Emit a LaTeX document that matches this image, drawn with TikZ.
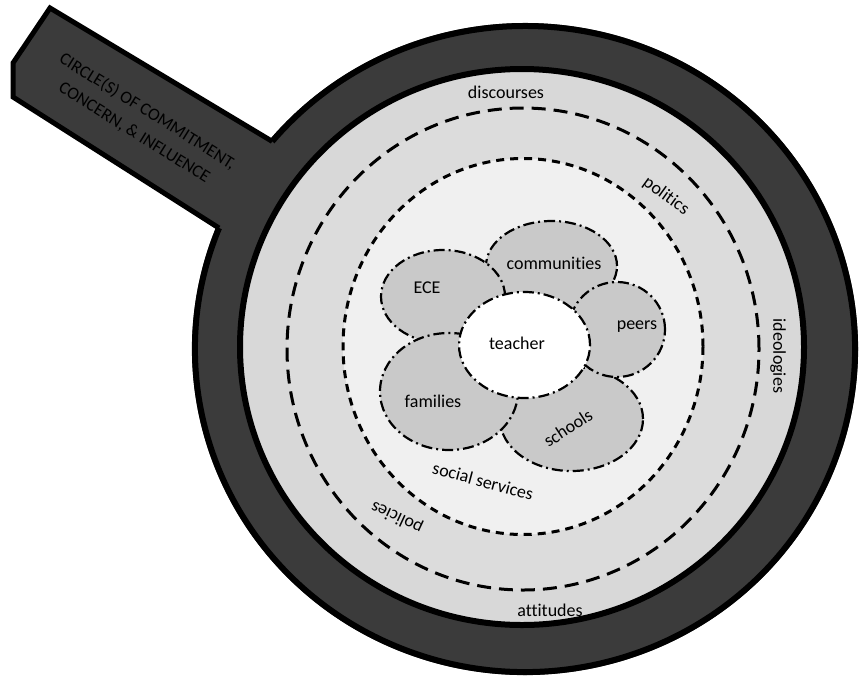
\documentclass[tikz,border=0pt]{standalone}
\usepackage{fontspec}
\setmainfont{Carlito}[Ligatures={NoCommon,NoContextual}]
\usetikzlibrary{calc}
\definecolor{ringdark}{HTML}{3B3B3B}
\definecolor{band}{HTML}{D8D8D8}
\definecolor{midband}{HTML}{DCDCDC}
\definecolor{innerbg}{HTML}{F0F0F0}
\definecolor{petalfill}{HTML}{C9C9C9}
\tikzset{
  lbl/.style={font=\fontsize{18}{21}\selectfont, text=black, inner sep=0pt},
  handletext/.style={font=\fontsize{17.5}{25}\selectfont, text=black, inner sep=0pt, align=center},
  petal/.style={fill=petalfill, draw=black, line width=2.2pt, dash pattern=on 11pt off 4pt on 2pt off 4pt},
  core/.style={fill=white, draw=black, line width=2.2pt, dash pattern=on 11pt off 4pt on 2pt off 4pt},
  outerdash/.style={draw=black, line width=3pt, dash pattern=on 14pt off 8pt},
  innerdash/.style={draw=black, line width=3pt, dash pattern=on 8pt off 6pt},
  rim/.style={draw=black, line width=6pt},
}
\begin{document}
\begin{tikzpicture}[x=1pt,y=-1pt]
\useasboundingbox (0,0) rectangle (859,675);
% centres
\coordinate (C) at (525,349);
\coordinate (CL) at (522,347);
\coordinate (CD) at (523,349);
\coordinate (CI) at (523,346.5);
% handle + dark ring
\fill[ringdark] (13,97) -- (13,63) -- (50,8) -- (332,175) -- (273,266) -- cycle;
\fill[ringdark] (C) ellipse [x radius=333pt, y radius=326pt];
\coordinate (hT) at ($(C)+(140:330pt and 323pt)$);
\coordinate (hB) at ($(C)+(158:330pt and 323pt)$);
\draw[rim] (hB) arc[start angle=158, end angle=500, x radius=330pt, y radius=323pt];
\draw[black, line width=5pt, line join=miter] (hB) -- (13,97) -- (13,63) -- (50,8) -- (hT);
% light band
\path[rim, fill=band] (CL) ellipse [x radius=282pt, y radius=278pt];
% outer dashed region
\fill[midband] (CD) ellipse [x radius=236pt, y radius=241pt];
\path[outerdash] (CD) ellipse [x radius=236pt, y radius=241pt];
% inner dashed region
\path[innerdash, fill=innerbg] (CI) ellipse [x radius=180pt, y radius=188pt];
% petals
\path[petal] (551.5,266) ellipse [x radius=65.5pt, y radius=45pt];
\path[petal] (443,296.5) ellipse [x radius=62pt, y radius=46.5pt];
\path[petal] (571.5,419) ellipse [x radius=71.5pt, y radius=52pt];
\path[petal] (617,329.5) ellipse [x radius=48pt, y radius=47.5pt];
\path[petal] (449,391.5) ellipse [x radius=69pt, y radius=58.5pt];
\path[core] (524.5,345) ellipse [x radius=65.5pt, y radius=53pt];
% labels
\node[handletext, rotate=-32] (title) at (141,122) {CIRCLE(S) OF COMMITMENT,\\CONCERN, \& INFLUENCE};
\node[lbl] (discourses) at (506,92) {discourses};
\node[lbl, rotate=-36] (politics) at (666,196) {politics};
\node[lbl, rotate=-90] (ideologies) at (778,356) {ideologies};
\node[lbl] (attitudes) at (550,610) {attitudes};
\node[lbl, rotate=155] (policies) at (397,517) {policies};
\node[lbl, rotate=-15] (social) at (483,481) {social services};
\node[lbl] (communities) at (554,263) {communities};
\node[lbl] (ece) at (427,288) {ECE};
\node[lbl] (peers) at (637,327) {peers};
\node[lbl] (teacher) at (517,343) {teacher};
\node[lbl] (families) at (433,401) {families};
\node[lbl, rotate=33] (schools) at (568,428) {schools};
\end{tikzpicture}
\end{document}
